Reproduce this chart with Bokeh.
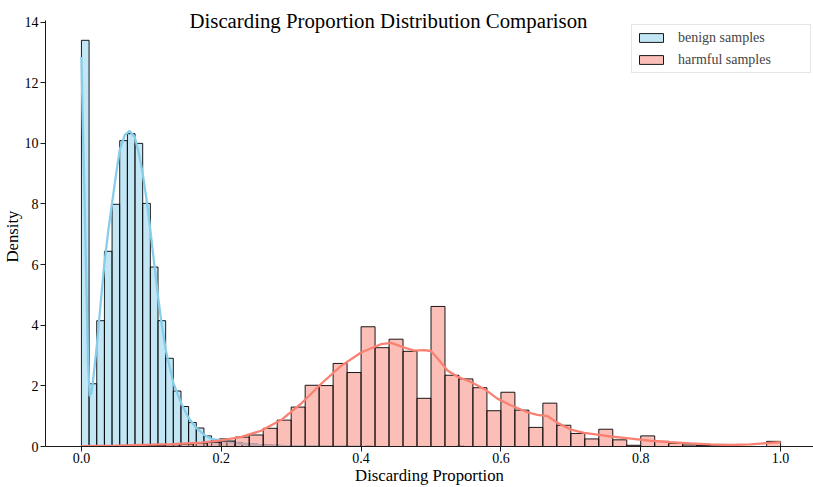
import numpy as np
from bokeh.plotting import figure
from bokeh.models import (Range1d, FixedTicker, PrintfTickFormatter, Label, Title,
                          Legend, LegendItem, ColumnDataSource)
from bokeh.embed import file_html
from bokeh.resources import INLINE

# ---------------- data ----------------
title_text = "Discarding Proportion Distribution Comparison"
x_label_text = "Discarding Proportion"
y_label_text = "Density"
series_labels = ["benign samples", "harmful samples"]

benign_range = (0.0, 0.5476)   # histogram span (50 bins)
harmful_range = (0.0, 1.0)     # histogram span (50 bins)

benign_density = [13.40, 2.07, 4.15, 6.44, 7.99, 10.09, 10.32, 10.00, 8.02, 5.92,
                  4.15, 2.91, 1.83, 1.32, 0.79, 0.61, 0.35, 0.22, 0.25, 0.17,
                  0.13, 0.10, 0.08, 0.06, 0.05, 0.04, 0.03, 0.03, 0.02, 0.02,
                  0.01, 0.01, 0.01, 0.00, 0.01, 0.00, 0.00, 0.01, 0.00, 0.00,
                  0.00, 0.00, 0.00, 0.00, 0.00, 0.00, 0.00, 0.00, 0.00, 0.01]

harmful_density = [0.00, 0.00, 0.01, 0.02, 0.03, 0.04, 0.06, 0.08, 0.11, 0.14,
                   0.18, 0.31, 0.38, 0.60, 0.87, 1.30, 2.02, 2.01, 2.74, 2.44,
                   3.95, 3.26, 3.54, 3.14, 1.59, 4.62, 2.35, 2.23, 1.94, 1.18,
                   1.79, 1.20, 0.63, 1.43, 0.70, 0.43, 0.25, 0.57, 0.22, 0.04,
                   0.35, 0.17, 0.10, 0.05, 0.03, 0.02, 0.00, 0.00, 0.00, 0.17]

benign_kde_x = [0.0, 0.0024, 0.0048, 0.0072, 0.0095, 0.0119, 0.0143, 0.0167, 0.0219,
                0.0274, 0.0329, 0.0383, 0.0438, 0.0493, 0.0548, 0.0619, 0.069,
                0.0762, 0.0819, 0.0876, 0.0931, 0.0986, 0.1040, 0.1095, 0.1150,
                0.1205, 0.1314, 0.1424, 0.1533, 0.1643, 0.1752, 0.1862, 0.1971,
                0.2081, 0.219, 0.24, 0.26, 0.29, 0.32, 0.35, 0.40]
benign_kde_y = [12.85, 10.2, 7.8, 5.2, 2.75, 1.66, 1.78, 2.2, 3.3,
                4.7, 6.05, 7.1, 8.02, 8.95, 9.78, 10.27, 10.41,
                10.21, 9.7, 9.01, 8.15, 7.14, 6.05, 4.95, 4.0,
                3.19, 2.10, 1.44, 0.94, 0.61, 0.39, 0.25, 0.21,
                0.17, 0.12, 0.07, 0.04, 0.02, 0.01, 0.0, 0.0]

harmful_kde_x = [0.0, 0.05, 0.1, 0.129, 0.171, 0.2, 0.229, 0.257, 0.286, 0.314,
                 0.343, 0.371, 0.4, 0.429, 0.443, 0.462, 0.476, 0.49, 0.5, 0.51,
                 0.524, 0.538, 0.557, 0.576, 0.595, 0.614, 0.638, 0.652, 0.667,
                 0.681, 0.7, 0.719, 0.738, 0.757, 0.786, 0.814, 0.843, 0.871,
                 0.9, 0.929, 0.957, 0.986, 1.0]
harmful_kde_y = [0.01, 0.03, 0.06, 0.08, 0.13, 0.2, 0.32, 0.52, 0.88, 1.41,
                 2.07, 2.65, 3.1, 3.38, 3.42, 3.26, 3.16, 3.18, 3.15, 2.89,
                 2.5, 2.3, 2.13, 1.9, 1.58, 1.36, 1.13, 1.04, 1.0,
                 0.78, 0.56, 0.45, 0.39, 0.33, 0.26, 0.19, 0.14, 0.10,
                 0.07, 0.05, 0.07, 0.12, 0.14]

x_ticks = [0.0, 0.2, 0.4, 0.6, 0.8, 1.0]
y_ticks = [0, 2, 4, 6, 8, 10, 12, 14]
y_axis_top = 14.055   # top of the density axis

# ---------------- styling ----------------
SERIF = "Liberation Serif"
BENIGN = "#87CEEB"   # skyblue
HARMFUL = "#FA8072"  # salmon
AXIS = "#1a1a1a"

b_edges = np.linspace(benign_range[0], benign_range[1], len(benign_density) + 1)
h_edges = np.linspace(harmful_range[0], harmful_range[1], len(harmful_density) + 1)

b_src = ColumnDataSource(dict(left=b_edges[:-1], right=b_edges[1:], top=benign_density))
h_src = ColumnDataSource(dict(left=h_edges[:-1], right=h_edges[1:], top=harmful_density))

p = figure(width=813, height=487, output_backend="svg", toolbar_location=None,
           title=None,
           x_range=Range1d(-0.0514, 1.0471), y_range=Range1d(0, 14.713),
           min_border_left=44, min_border_right=0, min_border_top=0,
           min_border_bottom=40)
p.outline_line_color = None
p.background_fill_color = "white"
p.border_fill_color = "white"
p.xgrid.grid_line_color = None
p.ygrid.grid_line_color = None

rb = p.quad(left="left", right="right", top="top", bottom=0, source=b_src,
            fill_color=BENIGN, fill_alpha=0.5, line_color="black",
            line_alpha=0.9, line_width=1)
p.line(benign_kde_x, benign_kde_y, line_color=BENIGN, line_width=2.3)
rh = p.quad(left="left", right="right", top="top", bottom=0, source=h_src,
            fill_color=HARMFUL, fill_alpha=0.5, line_color="black",
            line_alpha=0.9, line_width=1)
p.line(harmful_kde_x, harmful_kde_y, line_color=HARMFUL, line_width=2.3)

for ax in (p.xaxis[0], p.yaxis[0]):
    ax.axis_line_color = AXIS
    ax.axis_line_width = 1
    ax.major_tick_line_color = AXIS
    ax.major_tick_line_width = 1
    ax.major_tick_out = 5
    ax.major_tick_in = 0
    ax.minor_tick_line_color = None
    ax.major_label_text_font = SERIF
    ax.major_label_text_font_size = "14px"
    ax.major_label_text_color = "black"
    ax.axis_label_text_font = SERIF
    ax.axis_label_text_font_size = "16.7px"
    ax.axis_label_text_font_style = "normal"
    ax.axis_label_text_color = "black"
    ax.axis_label_standoff = 0

p.xaxis[0].ticker = FixedTicker(ticks=x_ticks)
p.xaxis[0].formatter = PrintfTickFormatter(format="%.1f")
p.xaxis[0].major_label_standoff = 1
p.xaxis[0].axis_label = x_label_text
p.yaxis[0].ticker = FixedTicker(ticks=y_ticks)
p.yaxis[0].major_label_standoff = 2
p.yaxis[0].bounds = (0, y_axis_top)

# y-axis label as a left-side title, anchored so it is centred on the visible spine
p.add_layout(Title(text=y_label_text, align="left", offset=184, standoff=0,
                   text_font=SERIF, text_font_size="16.7px",
                   text_font_style="normal", text_color="black"), "left")

# chart title inside the frame (screen units from frame bottom-left)
p.add_layout(Label(x=343, y=426, x_units="screen", y_units="screen",
                   text=title_text, text_align="center", text_baseline="alphabetic",
                   text_font=SERIF, text_font_size="20.8px", text_color="black"))

legend = Legend(items=[LegendItem(label=series_labels[0], renderers=[rb]),
                       LegendItem(label=series_labels[1], renderers=[rh])],
                location=(586, 373), margin=0, padding=4, spacing=5,
                glyph_width=30, glyph_height=11, label_standoff=12,
                label_width=128, label_height=17,
                label_text_font=SERIF, label_text_font_size="14px",
                border_line_color="#cccccc", border_line_width=1,
                background_fill_color="white", background_fill_alpha=0.8)
p.add_layout(legend)

open("out.html", "w").write(file_html(p, INLINE))
